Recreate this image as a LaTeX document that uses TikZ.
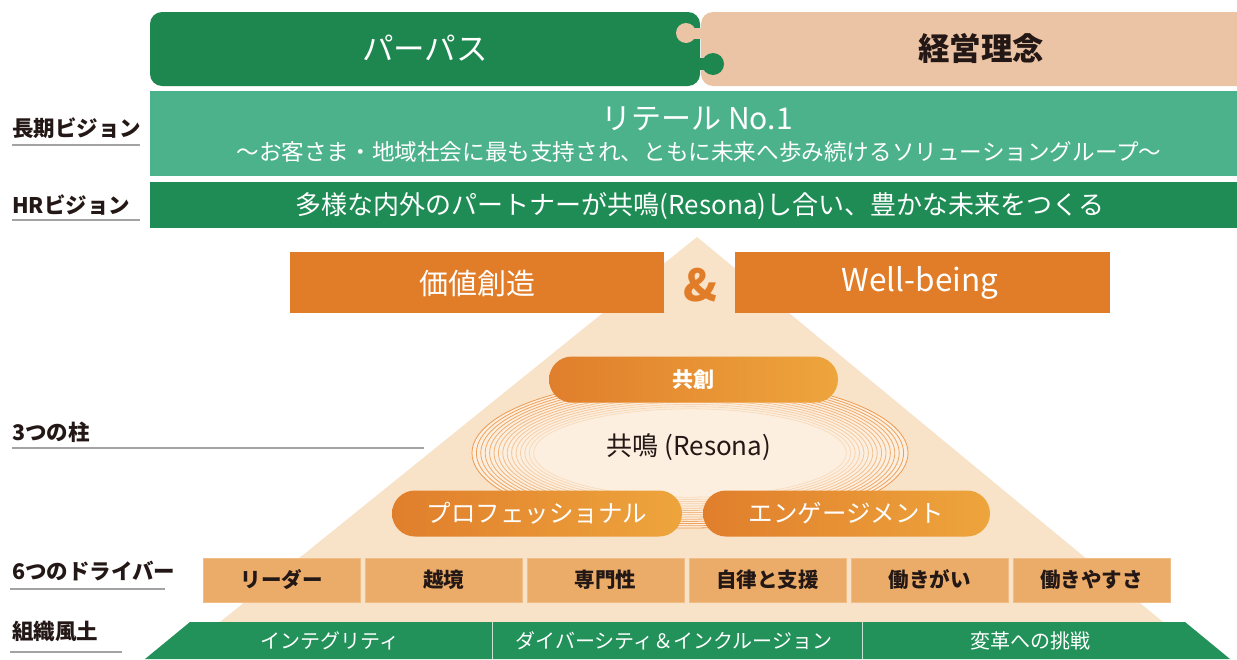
\documentclass[tikz,border=0pt]{standalone}
\usepackage{fontspec}
\setmainfont{Noto Sans CJK JP}
\definecolor{dgreen}{HTML}{1E8750}
\definecolor{lgreen}{HTML}{4BB28C}
\definecolor{hgreen}{HTML}{1F8C56}
\definecolor{tpeach}{HTML}{EBC3A5}
\definecolor{obar}{HTML}{E17D28}
\definecolor{pyr}{HTML}{F8E2C8}
\definecolor{drvc}{HTML}{ECAC69}
\definecolor{bgreen}{HTML}{23915A}
\definecolor{pillL}{HTML}{E07E2C}
\definecolor{pillR}{HTML}{EEA53C}
\definecolor{ink}{HTML}{231815}
\definecolor{lgray}{HTML}{A3A3A3}
\definecolor{ring}{HTML}{EE9A50}
\definecolor{cream}{HTML}{FCEFDF}
\newcommand{\fs}[1]{\fontsize{#1}{#1}\selectfont}
\tikzset{
  lbl/.style={font=\fs{21.5}\bfseries, text=ink, anchor=west, inner sep=0pt},
  uline/.style={draw=lgray, line width=1.6pt},
  wtxt/.style={text=white, inner sep=0pt},
  drvbox/.style={fill=drvc, draw=drvc!80!white, line width=0.6pt, minimum width=157pt, minimum height=44pt, inner sep=0pt, text=ink, font=\fs{20.5}\bfseries},
  pill/.style={left color=pillL, right color=pillR, rounded corners=23pt, minimum height=46pt, inner sep=0pt, text=white},
  gtxt/.style={text=white, inner sep=0pt, font=\fs{20}}
}
\begin{document}
\begin{tikzpicture}[x=1pt,y=-1pt]
\useasboundingbox (0,0) rectangle (1237,659);
\fill[white] (0,0) rectangle (1237,659);
% top puzzle bar
\fill[dgreen, rounded corners=12pt] (150,12) rectangle (700,86);
\fill[tpeach] (1237,12) [rounded corners=12pt] -- (701,12) -- (701,86) [sharp corners] -- (1237,86) -- cycle;
\fill[tpeach] (686,33) circle (10pt);
\fill[tpeach] (689,27.5) rectangle (702,38.5);
\fill[dgreen] (713,64) circle (11pt);
\fill[dgreen] (699,58) rectangle (706,70);
\node[wtxt, font=\fs{31.5}] (purpose) at (425,48) {パーパス};
\node[inner sep=0pt, text=ink, font=\fs{31.5}\bfseries] (rinen) at (981,48) {経営理念};
% vision bars
\fill[lgreen] (150,91) rectangle (1237,176);
\fill[hgreen] (150,182) rectangle (1237,228);
\node[wtxt, font=\fs{30}] (retail) at (697,119) {リテール No.1};
\node[wtxt, font=\fs{22.6}] (sub) at (699,152) {～お客さま・地域社会に最も支持され、ともに未来へ歩み続けるソリューショングループ～};
\node[wtxt, font=\fs{26}] (hr) at (700,206) {多様な内外のパートナーが共鳴(Resona)し合い、豊かな未来をつくる};
% pyramid
\fill[pyr] (697,237) -- (1163,622) -- (220,622) -- cycle;
\fill[obar] (290,252) rectangle (664,313);
\fill[obar] (735,252) rectangle (1110,313);
\node[wtxt, font=\fs{29}] (kachi) at (477,283) {価値創造};
\node[wtxt, font=\fs{31.5}] (well) at (920,283) {Well-being};
\node[inner sep=0pt, text=obar, font=\fs{44}\bfseries] (amp) at (700,285) {\&};
% resonance rings
\fill[cream] (690,453) ellipse [x radius=218pt, y radius=75pt];
\foreach \i in {0,...,14}{
  \pgfmathsetmacro{\rx}{218-\i*4.4}
  \pgfmathsetmacro{\ry}{75-\i*2.2}
  \pgfmathsetmacro{\op}{1-\i*0.055}
  \draw[ring, line width=0.8pt, draw opacity=\op] (690,453) ellipse [x radius=\rx pt, y radius=\ry pt];
}
\node[pill, minimum width=289pt, font=\fs{21}\bfseries] (kyoso) at (693.5,379.5) {共創};
\node[inner sep=0pt, text=ink, font=\fs{26}] (kyomei) at (689,447) {共鳴 (Resona)};
\node[pill, minimum width=290pt, font=\fs{24.5}] (pro) at (537,513.5) {プロフェッショナル};
\node[pill, minimum width=287pt, font=\fs{24.5}] (eng) at (846.5,513.5) {エンゲージメント};
% drivers
\node[drvbox] (d1) at (281.5,580) {リーダー};
\node[drvbox] (d2) at (443.5,580) {越境};
\node[drvbox] (d3) at (605.5,580) {専門性};
\node[drvbox] (d4) at (767.5,580) {自律と支援};
\node[drvbox] (d5) at (929.5,580) {働きがい};
\node[drvbox] (d6) at (1091.5,580) {働きやすさ};
% culture base
\fill[bgreen] (190,622) -- (1185,622) -- (1230,659) -- (145,659) -- cycle;
\draw[white!75!bgreen, line width=0.8pt] (492,622) -- (492,659);
\draw[white!75!bgreen, line width=0.8pt] (862,622) -- (862,659);
\node[gtxt] (c1) at (330,641) {インテグリティ};
\node[gtxt] (c2) at (674,641) {ダイバーシティ＆インクルージョン};
\node[gtxt] (c3) at (1030,641) {変革への挑戦};
% left labels
\node[lbl] (l1) at (12,128) {長期ビジョン};
\draw[uline] (12,145) -- (140,145);
\node[lbl] (l2) at (12,205) {HRビジョン};
\draw[uline] (12,220) -- (140,220);
\node[lbl] (l3) at (12,432) {3つの柱};
\draw[uline] (12,448) -- (424,448);
\node[lbl] (l4) at (12,571) {6つのドライバー};
\draw[uline] (10,589) -- (165,589);
\node[lbl] (l5) at (12,631) {組織風土};
\draw[uline] (10,652) -- (122,652);
\end{tikzpicture}
\end{document}
